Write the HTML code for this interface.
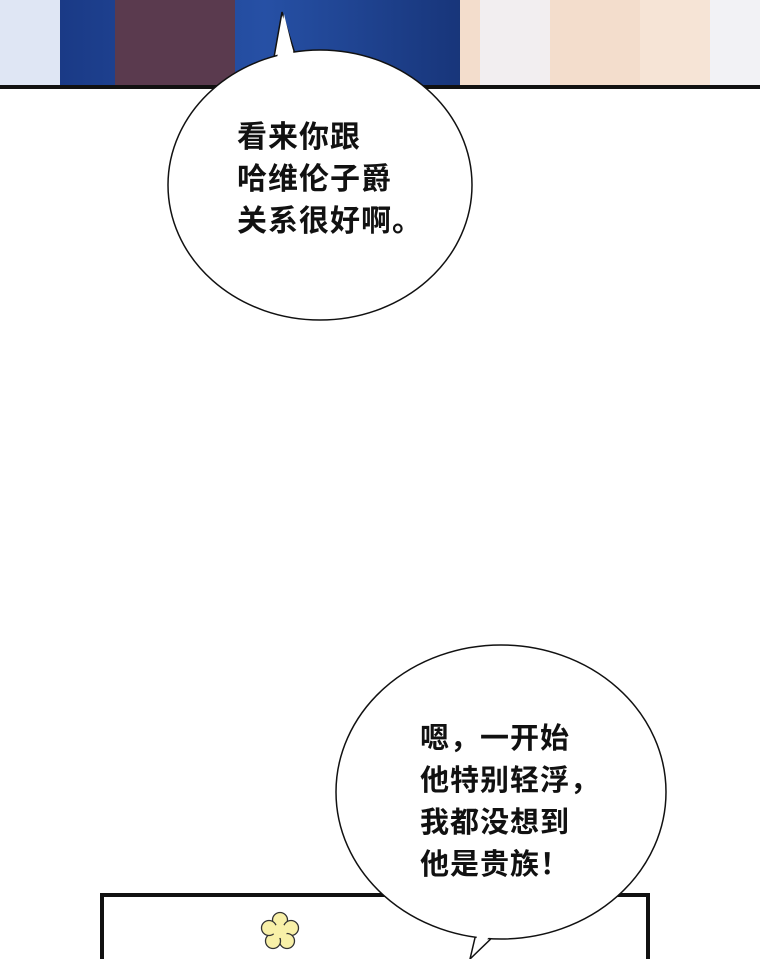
<!DOCTYPE html>
<html><head><meta charset="utf-8"><style>
html,body{margin:0;padding:0;background:#fff;}
body{width:760px;height:959px;position:relative;overflow:hidden;font-family:"Liberation Sans","Noto Sans CJK SC",sans-serif;}
.t{position:absolute;font-size:28px;line-height:42px;color:#111;letter-spacing:1px;white-space:nowrap;font-weight:bold;}
</style></head><body>
<svg width="760" height="959" style="position:absolute;left:0;top:0">
<defs>
<linearGradient id="g1" x1="0" x2="1"><stop offset="0" stop-color="#1a3a86"/><stop offset="0.5" stop-color="#2650a5"/><stop offset="1" stop-color="#173478"/></linearGradient>
</defs>
<rect x="0" y="0" width="760" height="87" fill="#e9eef8"/>
<rect x="0" y="0" width="60" height="87" fill="#dfe6f4"/>
<rect x="60" y="0" width="410" height="87" fill="url(#g1)"/>
<rect x="115" y="0" width="120" height="87" fill="#5a3a4e"/>
<rect x="460" y="0" width="300" height="87" fill="#f3ddcc"/>
<rect x="480" y="0" width="70" height="87" fill="#f2eef0"/>
<rect x="640" y="0" width="120" height="87" fill="#f6e4d6"/>
<rect x="710" y="0" width="50" height="87" fill="#f2f2f5"/>
<rect x="0" y="85" width="760" height="4" fill="#111"/>
<path d="M282,12 L300,70 L270,80 Z" fill="#fff" stroke="#111" stroke-width="1.5"/>
<ellipse cx="320" cy="185" rx="152" ry="135" fill="#fff" stroke="#111" stroke-width="1.5"/>
<path d="M284,14 L298,72 L274,78 Z" fill="#fff"/>
<rect x="102" y="895" width="546" height="70" fill="#fff" stroke="#111" stroke-width="4"/>
<g transform="translate(280,931)" fill="#f8f0a8" stroke="#333" stroke-width="1.3">
<circle cx="0" cy="-11" r="7.5"/><circle cx="11" cy="-3" r="7.5"/><circle cx="7" cy="10" r="7.5"/><circle cx="-7" cy="10" r="7.5"/><circle cx="-11" cy="-3" r="7.5"/><circle cx="0" cy="0" r="7" stroke="none"/>
</g>
<path d="M470,959 L478,925 L500,930 Z" fill="#fff" stroke="#111" stroke-width="1.5"/>
<ellipse cx="501" cy="792" rx="165" ry="147" fill="#fff" stroke="#111" stroke-width="1.5"/>
<path d="M472,955 L480,925 L498,928 Z" fill="#fff"/>
</svg>
<div class="t" style="left:237px;top:117px;font-size:30px">看来你跟<br>哈维伦子爵<br>关系很好啊。</div>
<div class="t" style="left:420px;top:718px;font-size:29px">嗯，一开始<br>他特别轻浮，<br>我都没想到<br>他是贵族！</div>
</body></html>
